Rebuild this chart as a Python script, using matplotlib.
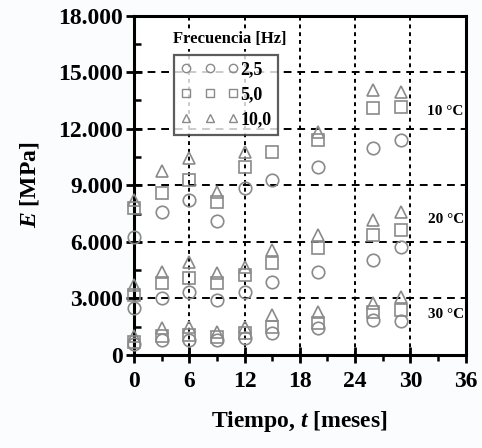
import matplotlib
matplotlib.use("Agg")
import matplotlib.pyplot as plt
from matplotlib.ticker import MultipleLocator, FixedLocator

plt.rcParams['font.family'] = ['Liberation Serif', 'DejaVu Serif']
plt.rcParams['font.weight'] = 'bold'
plt.rcParams['axes.labelweight'] = 'bold'
plt.rcParams['mathtext.fontset'] = 'custom'
plt.rcParams['mathtext.it'] = 'Liberation Serif:italic:bold'
plt.rcParams['mathtext.rm'] = 'Liberation Serif:bold'

# tiempo de ensayo [meses]
t = [0, 3, 6, 9, 12, 15, 20, 26, 29]

# módulo E [MPa] a 10 °C
e10_f25 = [6270, 7600, 8230, 7120, 8870, 9290, 9990, 10990, 11420]
e10_f50 = [7800, 8600, 9290, 8130, 9980, 10780, 11420, 13110, 13170]
e10_f100 = [8230, 9770, 10460, 8650, 10780, None, 11840, 14070, 13970]

# módulo E [MPa] a 20 °C
e20_f25 = [2500, 3030, 3350, 2920, 3350, 3880, 4410, 5050, 5740]
e20_f50 = [3200, 3820, 4090, 3820, 4250, 4890, 5680, 6370, 6640]
e20_f100 = [3700, 4410, 4940, 4350, 4670, 5580, 6370, 7170, 7590]

# módulo E [MPa] a 30 °C
e30_f25 = [600, 800, 800, 800, 900, 1170, 1430, 1860, 1800]
e30_f50 = [700, 1000, 1060, 960, 1170, 1490, 1700, 2280, 2400]
e30_f100 = [1000, 1400, 1490, 1220, 1490, 2120, 2280, 2760, 3050]

freq_labels = ['2,5', '5,0', '10,0']
temp_labels = ['10 °C', '20 °C', '30 °C']
temp_pos = [12900, 7170, 2120]

y_ticks = [0, 3000, 6000, 9000, 12000, 15000, 18000]
y_ticklabels = ['0', '3.000', '6.000', '9.000', '12.000', '15.000', '18.000']
x_ticks = [0, 6, 12, 18, 24, 30, 36]

gray = '#8a8a8a'
markers = ['o', 's', '^']
series = [
    [e10_f25, e10_f50, e10_f100],
    [e20_f25, e20_f50, e20_f100],
    [e30_f25, e30_f50, e30_f100],
]

fig = plt.figure(figsize=(4.82, 4.48), dpi=100)
fig.patch.set_facecolor('#fafcfd')
ax = fig.add_axes([0.278, 0.208, 0.688, 0.757])
ax.set_facecolor('white')

for group in series:
    for vals, m in zip(group, markers):
        xs = [ti for ti, v in zip(t, vals) if v is not None]
        ys = [v for v in vals if v is not None]
        ax.plot(xs, ys, linestyle='none', marker=m, markersize=9,
                markerfacecolor='none', markeredgecolor=gray,
                markeredgewidth=1.2, zorder=3, clip_on=False)

ax.set_xlim(0, 36)
ax.set_ylim(0, 18000)
ax.xaxis.set_major_locator(FixedLocator(x_ticks))
ax.xaxis.set_minor_locator(MultipleLocator(3))
ax.yaxis.set_major_locator(FixedLocator(y_ticks))
ax.yaxis.set_minor_locator(MultipleLocator(1500))
ax.set_yticklabels(y_ticklabels)

ax.tick_params(which='major', direction='inout', length=12, width=2,
               labelsize=17, pad=2)
ax.tick_params(axis='x', which='major', pad=6)
ax.tick_params(axis='y', which='minor', direction='in', length=5, width=1.8)
ax.tick_params(axis='x', which='minor', direction='out', length=4, width=1.8)
for s in ax.spines.values():
    s.set_linewidth(2.2)

# rejilla discontinua
for yv in y_ticks[1:-1]:
    ax.axhline(yv, color='black', lw=1.4, ls=(0, (4, 3)), zorder=1)
for xv in x_ticks[1:-1]:
    ax.axvline(xv, color='black', lw=1.4, ls=(0, (2, 2)), zorder=1)

for lab, yv in zip(temp_labels, temp_pos):
    ax.text(35.8, yv, lab, ha='right', va='center', fontsize=11,
            fontweight='bold', zorder=4)

ax.set_xlabel(r'Tiempo, $t$ [meses]', fontsize=17, labelpad=12)
ax.set_ylabel(r'$E$ [MPa]', fontsize=17, labelpad=12)

handles = [plt.Line2D([], [], ls='none', marker=m, markersize=6,
                      markerfacecolor='none', markeredgecolor=gray,
                      markeredgewidth=1.0) for m in markers]
leg = ax.legend(handles, freq_labels, numpoints=3, loc='upper left',
                bbox_to_anchor=(0.122, 0.885), fontsize=13, frameon=True,
                fancybox=False, edgecolor='#333333', handlelength=3.2,
                handletextpad=0.1, labelspacing=0.45, borderpad=0.35,
                borderaxespad=0)
leg.get_frame().set_linewidth(1.6)
leg.set_zorder(5)
for txt in leg.get_texts():
    txt.set_fontweight('bold')

ax.text(0.29, 0.93, 'Frecuencia [Hz]', transform=ax.transAxes,
        ha='center', va='center', fontsize=12, fontweight='bold', zorder=6,
        bbox=dict(facecolor='white', edgecolor='none', pad=1.5))

fig.savefig('out.png', dpi=100, facecolor=fig.get_facecolor())
